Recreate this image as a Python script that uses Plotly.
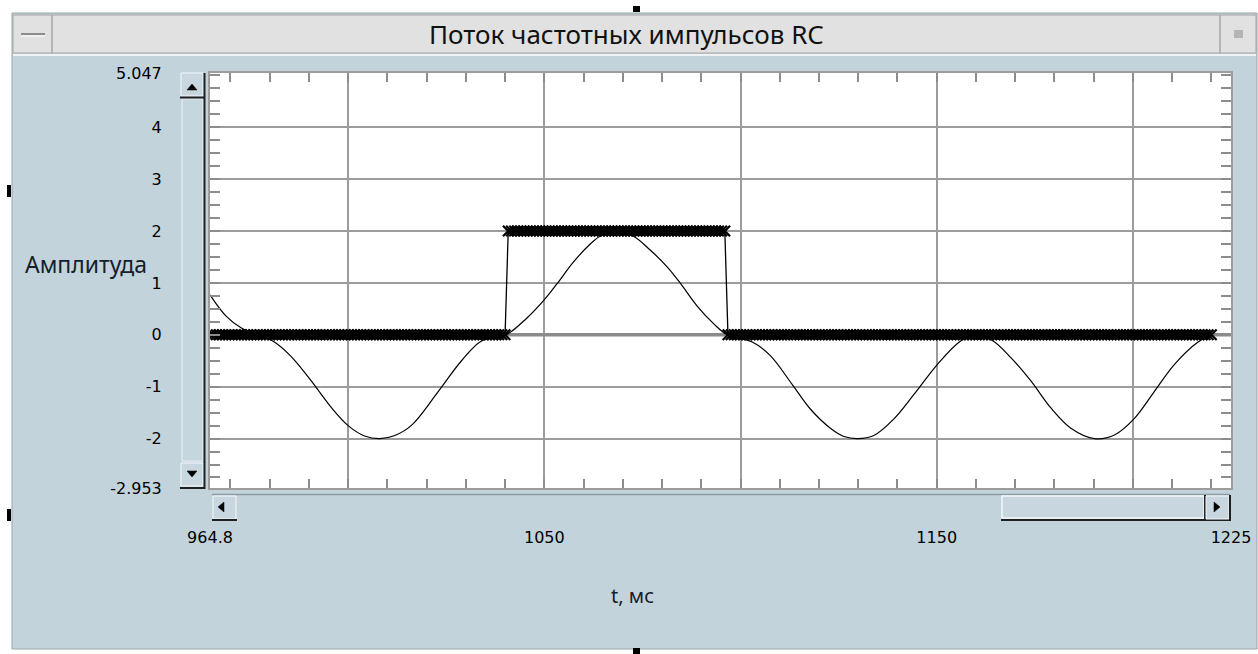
import numpy as np
import plotly.graph_objects as go

# ---------------- data ----------------
x_range = [964.8, 1225]
y_range = [-2.953, 5.047]

x_tick_vals = [964.8, 1000, 1050, 1100, 1150, 1200, 1225]
x_tick_text = ["964.8", "", "1050", "", "1150", "", "1225"]
y_tick_vals = [-2.953, -2, -1, 0, 1, 2, 3, 4, 5.047]
y_tick_text = ["-2.953", "-2", "-1", "0", "1", "2", "3", "4", "5.047"]

# RC output (thin curve)
rc_t = [964.8, 968.9, 972.8, 976.8, 980.8, 985.5, 990.6, 995.7, 1000.0, 1004.2,
        1008.1, 1011.9, 1016.2, 1023.0, 1028.9, 1034.0, 1040.3, 1045.5, 1049.8,
        1053.2, 1057.4, 1061.7, 1064.2, 1068.2, 1072.7, 1076.9, 1081.3, 1084.7,
        1088.9, 1093.2, 1096.6, 1103.0, 1107.6, 1113.2, 1117.9, 1122.9, 1126.4,
        1129.8, 1134.0, 1139.1, 1144.2, 1150.2, 1156.1, 1160.0, 1164.2, 1168.9,
        1174.0, 1179.1, 1184.2, 1190.2, 1195.3, 1200.4, 1205.5, 1210.6, 1216.6,
        1220.0]
rc_v = [0.77, 0.36, 0.13, 0.0, -0.12, -0.42, -0.89, -1.40, -1.75, -1.95,
        -2.00, -1.94, -1.74, -1.09, -0.50, -0.12, 0.0, 0.32, 0.66,
        0.98, 1.40, 1.75, 1.90, 2.00, 1.90, 1.64, 1.31, 0.99,
        0.56, 0.21, 0.0, -0.14, -0.40, -0.96, -1.44, -1.80, -1.96,
        -2.00, -1.94, -1.62, -1.15, -0.57, -0.12, 0.0, -0.11, -0.44,
        -0.89, -1.41, -1.80, -2.00, -1.93, -1.61, -1.09, -0.57, -0.14,
        0.0]

# pulse stream (step signal): edges and levels
pulse_edges = [964.8, 1040.4, 1096.6, 1220.4]
pulse_levels = [0, 2, 0]
pulse_step = 0.8

# grey base line
base_t = [964.8, 1225]
base_v = [0, 0]

# ---------------- build pulse samples ----------------
pulse_t = np.arange(pulse_edges[0], pulse_edges[-1] + 1e-6, pulse_step)
pulse_v = np.zeros_like(pulse_t)
for i, lev in enumerate(pulse_levels):
    m = (pulse_t >= pulse_edges[i]) & (pulse_t < pulse_edges[i + 1])
    pulse_v[m] = lev

# ---------------- geometry helpers (pixels -> paper) ----------------
W, H = 1258, 654
L, R, T, B = 210, 1231, 73, 488


def fx(px):
    return (px - L) / (R - L)


def fy(py):
    return (B - py) / (B - T)


shapes = []


def rect(x0, y0, x1, y1, fill=None, line=None, lw=1):
    shapes.append(dict(type="rect", xref="paper", yref="paper",
                       x0=fx(x0), x1=fx(x1), y0=fy(y1), y1=fy(y0),
                       fillcolor=fill if fill else "rgba(0,0,0,0)",
                       line=dict(color=line if line else "rgba(0,0,0,0)", width=lw if line else 0),
                       layer="below"))


def seg(x0, y0, x1, y1, color, lw=1, layer="below"):
    shapes.append(dict(type="line", xref="paper", yref="paper",
                       x0=fx(x0), x1=fx(x1), y0=fy(y0), y1=fy(y1),
                       line=dict(color=color, width=lw), layer=layer))


def tri(pts, color="#000000"):
    p = "M " + " L ".join(f"{fx(a)},{fy(b)}" for a, b in pts) + " Z"
    shapes.append(dict(type="path", xref="paper", yref="paper", path=p,
                       fillcolor=color, line=dict(color=color, width=0.5), layer="above"))


BODY = "#c3d3dc"
BTN = "#c8d7df"

# window
rect(12, 13, 1257, 649, fill=BODY, line="#9aa4aa", lw=1)
# title bar
rect(13, 15, 1256, 53, fill="#e1e1e1", line="#a6a6a6", lw=1)
seg(13, 55, 1256, 55, "#eef3f5", 2)
seg(52, 15, 52, 53, "#a6a6a6", 1.5)
seg(1220, 15, 1220, 53, "#a6a6a6", 1.5)
seg(21, 34, 45, 34, "#8c8c8c", 2)
seg(21, 36, 45, 36, "#ffffff", 1)
rect(1234, 30, 1243, 38, fill="#b4b4b4")

# plot area
rect(L, T, R, B, fill="#ffffff")

# vertical scrollbar
rect(182, 99, 203, 461, fill="#c6d6de", line="#eaf1f4", lw=1)
rect(181, 73, 203, 96, fill=BTN, line="#f4f8fa", lw=1)
seg(180, 97.5, 205, 97.5, "#202020", 2)
rect(181, 463, 203, 486, fill=BTN, line="#f4f8fa", lw=1)
seg(180, 488, 205, 488, "#202020", 2)
seg(204.5, 73, 204.5, 489, "#202020", 2)
tri([(187, 90), (197, 90), (192, 84)])
tri([(187, 471), (197, 471), (192, 477)])

# horizontal scrollbar
seg(212, 494.5, 1230, 494.5, "#8d9aa1", 1.5)
rect(213, 496, 236, 519, fill=BTN, line="#f4f8fa", lw=1)
seg(212, 520, 237, 520, "#202020", 2)
rect(1002, 496, 1204, 518, fill="#c8d7df", line="#f4f8fa", lw=1.5)
seg(1001, 520, 1230, 520, "#202020", 2)
seg(1205, 495, 1205, 520, "#202020", 2)
rect(1206, 496, 1229, 519, fill=BTN, line="#f4f8fa", lw=1)
seg(1230, 495, 1230, 521, "#202020", 2)
tri([(224, 502), (224, 512), (218, 507)])
tri([(1214, 502), (1214, 512), (1220, 507)])

# resize handles
rect(7, 185, 11, 197, fill="#000000")
rect(7, 509, 11, 521, fill="#000000")
rect(633, 6, 640, 12, fill="#000000")
rect(633, 648, 640, 654, fill="#000000")

# ---------------- traces ----------------
fig = go.Figure()
fig.add_trace(go.Scatter(x=base_t, y=base_v, mode="lines",
                         line=dict(color="#8a8a8a", width=3.5),
                         hoverinfo="skip", showlegend=False))
fig.add_trace(go.Scatter(x=rc_t, y=rc_v, mode="lines",
                         line=dict(color="#000000", width=1.2, shape="spline", smoothing=1.0),
                         showlegend=False))
fig.add_trace(go.Scatter(x=pulse_t, y=pulse_v, mode="lines+markers",
                         line=dict(color="#000000", width=1.3),
                         marker=dict(symbol="x-thin", size=10.5,
                                     line=dict(color="#000000", width=2.2)),
                         showlegend=False))

tick_font = dict(family="DejaVu Sans", size=16, color="#000000")

fig.update_layout(
    width=W, height=H,
    margin=dict(l=L, r=W - R, t=T, b=H - B, autoexpand=False),
    paper_bgcolor="#ffffff",
    plot_bgcolor="rgba(0,0,0,0)",
    shapes=shapes,
    showlegend=False,
    xaxis=dict(range=x_range, tickmode="array", tickvals=x_tick_vals, ticktext=x_tick_text,
               showgrid=True, gridcolor="#9c9c9c", gridwidth=2, zeroline=False,
               showline=True, linecolor="#9c9c9c", linewidth=2, mirror="allticks",
               ticks="", tickfont=tick_font, ticklabelstandoff=34,
               minor=dict(tick0=0, dtick=10, ticks="inside", ticklen=9,
                          tickcolor="#8c8c8c", tickwidth=1.5, showgrid=False),
               fixedrange=True),
    yaxis=dict(range=y_range, tickmode="array", tickvals=y_tick_vals, ticktext=y_tick_text,
               showgrid=True, gridcolor="#9c9c9c", gridwidth=2, zeroline=False,
               showline=True, linecolor="#9c9c9c", linewidth=2, mirror="allticks",
               ticks="", tickfont=tick_font, ticklabelstandoff=43,
               minor=dict(tick0=0, dtick=0.25, ticks="inside", ticklen=10,
                          tickcolor="#8c8c8c", tickwidth=1.5, showgrid=False),
               fixedrange=True),
    annotations=[
        dict(text="Поток частотных импульсов RC", xref="paper", yref="paper",
             x=fx(626), y=fy(34), xanchor="center", yanchor="middle", showarrow=False,
             font=dict(family="Noto Sans", size=26, color="#111111")),
        dict(text="Амплитуда", xref="paper", yref="paper",
             x=fx(86), y=fy(264), xanchor="center", yanchor="middle", showarrow=False,
             font=dict(family="Noto Sans", size=23, color="#15202a")),
        dict(text="t, мс", xref="paper", yref="paper",
             x=fx(632), y=fy(595), xanchor="center", yanchor="middle", showarrow=False,
             font=dict(family="Noto Sans", size=20, color="#15202a")),
    ],
)

fig.write_html("out.html", config={"displayModeBar": False},
               post_script="document.body.style.margin='0';document.body.style.overflow='hidden';")
